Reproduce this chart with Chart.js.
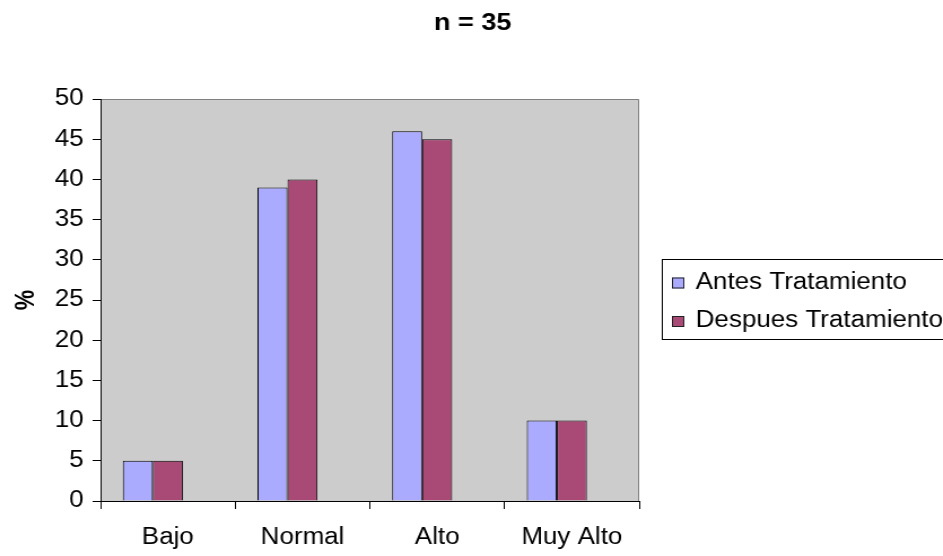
<!DOCTYPE html>
<html>
<head>
<meta charset="utf-8">
<script src="https://cdn.jsdelivr.net/npm/chart.js@4.4.1/dist/chart.umd.min.js"></script>
<style>
  html, body { margin: 0; padding: 0; background: #ffffff; overflow: hidden; }
  /* the chart is laid out on a narrower canvas and widened horizontally */
  #frame { position: absolute; left: 0; top: 0; width: 835px; height: 556px;
           transform: scaleX(1.1293); transform-origin: 0 0; }
</style>
</head>
<body>
<div id="frame"><canvas id="chart"></canvas></div>
<script>
// ---- data ----
const categories = ['Bajo', 'Normal', 'Alto', 'Muy Alto'];
const antesTratamiento = [5, 39, 46, 10];
const despuesTratamiento = [5, 40, 45, 10];
const seriesNames = ['Antes Tratamiento', 'Despues Tratamiento'];
const seriesColors = ['#AAAAFF', '#A94A76'];
const yTicks = [0, 5, 10, 15, 20, 25, 30, 35, 40, 45, 50];
const chartTitle = 'n = 35';
const yAxisTitle = '%';

const FONT = '"Liberation Sans", Arial, sans-serif';

// gray plot area, its top/right frame, the title and the boxed legend
const chartDecor = {
  id: 'chartDecor',
  beforeDraw(chart) {
    const { ctx, chartArea: a } = chart;
    ctx.save();
    ctx.fillStyle = '#CCCCCC';
    ctx.fillRect(a.left, a.top, a.right - a.left, a.bottom - a.top);
    ctx.strokeStyle = '#808080';
    ctx.lineWidth = 1;
    ctx.beginPath();
    ctx.moveTo(a.left, a.top + 0.5);
    ctx.lineTo(a.right - 0.5, a.top + 0.5);
    ctx.lineTo(a.right - 0.5, a.bottom);
    ctx.stroke();
    ctx.restore();
  },
  afterDraw(chart) {
    const { ctx } = chart;
    ctx.save();
    // title
    ctx.fillStyle = '#000000';
    ctx.font = 'bold 24px ' + FONT;
    ctx.textAlign = 'center';
    ctx.textBaseline = 'alphabetic';
    ctx.fillText(chartTitle, chart.width / 2 + 1, 30);

    // legend
    const lx = 586.5, ly = 259.5, lh = 80;
    ctx.strokeStyle = '#000000';
    ctx.lineWidth = 1;
    ctx.strokeRect(lx, ly, 400, lh);
    ctx.font = '23px ' + FONT;
    ctx.textAlign = 'left';
    const rows = [288.5, 327];
    seriesNames.forEach((name, i) => {
      const base = rows[i];
      ctx.fillStyle = seriesColors[i];
      ctx.fillRect(595, base - 11, 11, 11);
      ctx.strokeStyle = '#222222';
      ctx.strokeRect(595.5, base - 10.5, 10, 10);
      ctx.fillStyle = '#000000';
      ctx.fillText(name, 616, base);
    });
    ctx.restore();
  }
};

new Chart(document.getElementById('chart'), {
  type: 'bar',
  data: {
    labels: categories,
    datasets: [
      { label: seriesNames[0], data: antesTratamiento, backgroundColor: seriesColors[0],
        borderColor: '#000000', borderWidth: 1 },
      { label: seriesNames[1], data: despuesTratamiento, backgroundColor: seriesColors[1],
        borderColor: '#000000', borderWidth: 1 },
      // empty third slot in each group keeps the pair left of the category centre
      { label: '', data: categories.map(() => null) }
    ]
  },
  options: {
    responsive: true,
    maintainAspectRatio: false,
    animation: false,
    events: [],
    layout: { padding: { top: 99, right: 269, left: 0, bottom: 0 } },
    datasets: { bar: { categoryPercentage: 0.669, barPercentage: 1.0 } },
    plugins: {
      legend: { display: false },
      title: { display: false },
      tooltip: { enabled: false }
    },
    scales: {
      x: {
        grid: { display: true, drawOnChartArea: false, drawTicks: true, tickLength: 8,
                color: '#000000', offset: true },
        border: { display: true, color: '#000000', width: 1 },
        ticks: { color: '#000000', font: { family: FONT, size: 23 }, padding: 15,
                 maxRotation: 0, autoSkip: false },
        afterFit(scale) { scale.height = 55; }
      },
      y: {
        min: yTicks[0],
        max: yTicks[yTicks.length - 1],
        grid: { display: true, drawOnChartArea: false, drawTicks: true, tickLength: 7,
                color: '#000000' },
        border: { display: true, color: '#000000', width: 1 },
        afterBuildTicks(scale) { scale.ticks = yTicks.map(v => ({ value: v })); },
        ticks: { color: '#000000', font: { family: FONT, size: 23 }, padding: 8 },
        title: { display: true, text: yAxisTitle, color: '#000000',
                 font: { family: FONT, size: 23, weight: 'bold' }, padding: { top: 10, bottom: 0 } },
        afterFit(scale) { scale.width = 89; }
      }
    }
  },
  plugins: [chartDecor]
});
</script>
</body>
</html>
